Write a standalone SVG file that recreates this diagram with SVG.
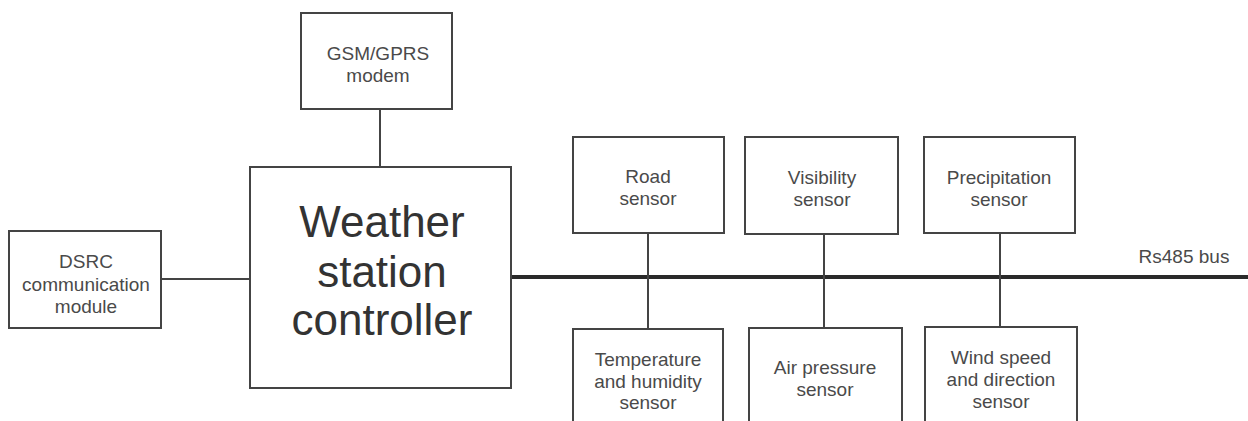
<svg xmlns="http://www.w3.org/2000/svg" width="1248" height="421" viewBox="0 0 1248 421">
  <style>
    .box { fill: #ffffff; stroke: #444444; stroke-width: 2; }
    .wire { stroke: #444444; stroke-width: 2; fill: none; }
    .bus { stroke: #2a2a2a; stroke-width: 4; fill: none; }
    .lbl { font-family: "Liberation Sans", Arial, sans-serif; font-size: 19px; fill: #4a4a4a; text-anchor: middle; }
    .big { font-family: "Liberation Sans", Arial, sans-serif; font-size: 44px; fill: #333333; text-anchor: middle; }
  </style>
  <rect width="1248" height="421" fill="#ffffff"/>

  <!-- connectors -->
  <g id="connectors">
    <line class="wire" x1="380" y1="109" x2="380" y2="167"/>
    <line class="wire" x1="161" y1="279" x2="250" y2="279"/>
    <line class="bus" x1="511" y1="277" x2="1248" y2="277"/>
    <line class="wire" x1="648" y1="233" x2="648" y2="329"/>
    <line class="wire" x1="824" y1="234" x2="824" y2="328"/>
    <line class="wire" x1="1000" y1="233" x2="1000" y2="327"/>
    <text class="lbl" x="1184" y="263" font-size="20">Rs485 bus</text>
  </g>

  <g id="gsm">
    <rect class="box" x="301" y="13" width="151" height="96"/>
    <text class="lbl" x="378" y="60">GSM/GPRS</text>
    <text class="lbl" x="378" y="82">modem</text>
  </g>

  <g id="controller">
    <rect class="box" x="250" y="167" width="261" height="221"/>
    <text class="big" x="382" y="237">Weather</text>
    <text class="big" x="382" y="287">station</text>
    <text class="big" x="382" y="335">controller</text>
  </g>

  <g id="dsrc">
    <rect class="box" x="9" y="231" width="152" height="97"/>
    <text class="lbl" x="86" y="268">DSRC</text>
    <text class="lbl" x="86" y="291">communication</text>
    <text class="lbl" x="86" y="313">module</text>
  </g>

  <g id="road">
    <rect class="box" x="573" y="137" width="151" height="96"/>
    <text class="lbl" x="648" y="183">Road</text>
    <text class="lbl" x="648" y="205">sensor</text>
  </g>

  <g id="visibility">
    <rect class="box" x="745" y="137" width="153" height="97"/>
    <text class="lbl" x="822" y="184">Visibility</text>
    <text class="lbl" x="822" y="206">sensor</text>
  </g>

  <g id="precipitation">
    <rect class="box" x="924" y="137" width="151" height="96"/>
    <text class="lbl" x="999" y="184">Precipitation</text>
    <text class="lbl" x="999" y="206">sensor</text>
  </g>

  <g id="temperature">
    <rect class="box" x="573" y="329" width="150" height="100"/>
    <text class="lbl" x="648" y="366">Temperature</text>
    <text class="lbl" x="648" y="388">and humidity</text>
    <text class="lbl" x="648" y="409">sensor</text>
  </g>

  <g id="pressure">
    <rect class="box" x="749" y="328" width="153" height="100"/>
    <text class="lbl" x="825" y="374">Air pressure</text>
    <text class="lbl" x="825" y="396">sensor</text>
  </g>

  <g id="wind">
    <rect class="box" x="925" y="327" width="152" height="100"/>
    <text class="lbl" x="1001" y="364">Wind speed</text>
    <text class="lbl" x="1001" y="386">and direction</text>
    <text class="lbl" x="1001" y="408">sensor</text>
  </g>
</svg>
